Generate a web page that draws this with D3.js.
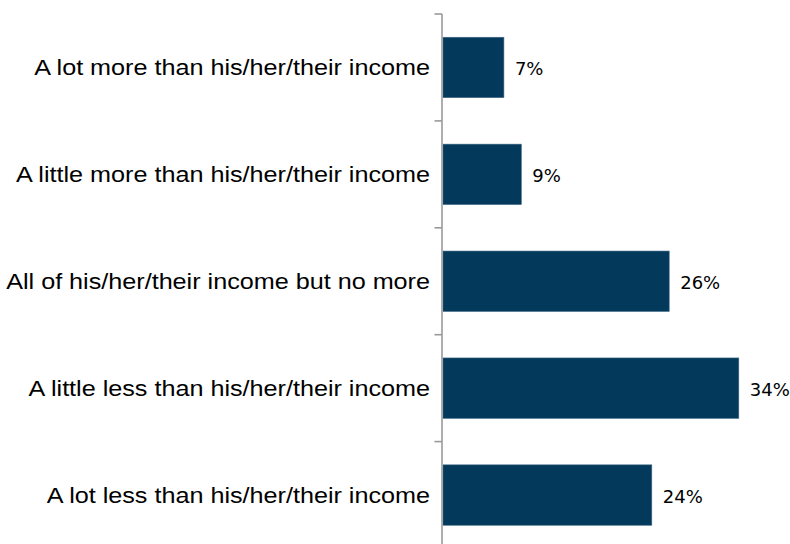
<!DOCTYPE html>
<html>
<head>
<meta charset="utf-8">
<script src="https://cdn.jsdelivr.net/npm/d3@7"></script>
<style>
  html, body { margin: 0; padding: 0; background: #ffffff; }
  svg { display: block; }
</style>
</head>
<body>
<svg id="chart" width="790" height="544"></svg>
<script>
const categories = [
  "A lot more than his/her/their income",
  "A little more than his/her/their income",
  "All of his/her/their income but no more",
  "A little less than his/her/their income",
  "A lot less than his/her/their income"
];
const values = [7, 9, 26, 34, 24];
const valueLabels = ["7%", "9%", "26%", "34%", "24%"];

(function () {
const svg = d3.select("#chart");
const W = 790, H = 544;
const axisX = 442;
const plotTop = 14, plotBottom = 548.5;
const pInner = 0.435;

const y = d3.scaleBand()
  .domain(categories)
  .range([plotTop, plotBottom])
  .paddingInner(pInner)
  .paddingOuter(pInner / 2);

const x = d3.scaleLinear().domain([0, 40]).range([axisX + 1, axisX + 1 + 348]);

const step = y.step();
const boundaries = categories.map(c => y(c) - step * pInner / 2);

// bars
svg.append("g").selectAll("rect")
  .data(categories)
  .join("rect")
  .attr("x", x(0))
  .attr("y", d => y(d))
  .attr("width", (d, i) => x(values[i]) - x(0))
  .attr("height", y.bandwidth())
  .attr("fill", "#033a5b")
  .attr("stroke", "#3f6786")
  .attr("stroke-width", 0.6);

// axis line and ticks
const ax = svg.append("g");
ax.append("line")
  .attr("x1", axisX).attr("x2", axisX)
  .attr("y1", plotTop).attr("y2", H)
  .attr("stroke", "#9a9a9a").attr("stroke-width", 1.6);
ax.selectAll("line.tick")
  .data(boundaries)
  .join("line")
  .attr("class", "tick")
  .attr("x1", axisX - 7.5).attr("x2", axisX)
  .attr("y1", d => d).attr("y2", d => d)
  .attr("stroke", "#9a9a9a").attr("stroke-width", 1.6);

// category labels (slightly widened like the original rendering)
svg.append("g").selectAll("text")
  .data(categories)
  .join("text")
  .attr("transform", d => `translate(430,${y(d) + y.bandwidth() / 2}) scale(1.145,1)`)
  .attr("x", 0)
  .attr("y", 0)
  .attr("dy", "0.34em")
  .attr("text-anchor", "end")
  .attr("font-family", "'Liberation Sans', Arial, sans-serif")
  .attr("font-size", 22)
  .attr("fill", "#000")
  .text(d => d);

// value labels
svg.append("g").selectAll("text")
  .data(categories)
  .join("text")
  .attr("x", (d, i) => x(values[i]) + 11)
  .attr("y", d => y(d) + y.bandwidth() / 2)
  .attr("dy", "0.42em")
  .attr("font-family", "'DejaVu Sans', Verdana, sans-serif")
  .attr("font-size", 18)
  .attr("fill", "#000")
  .text((d, i) => valueLabels[i]);
})();
</script>
</body>
</html>
